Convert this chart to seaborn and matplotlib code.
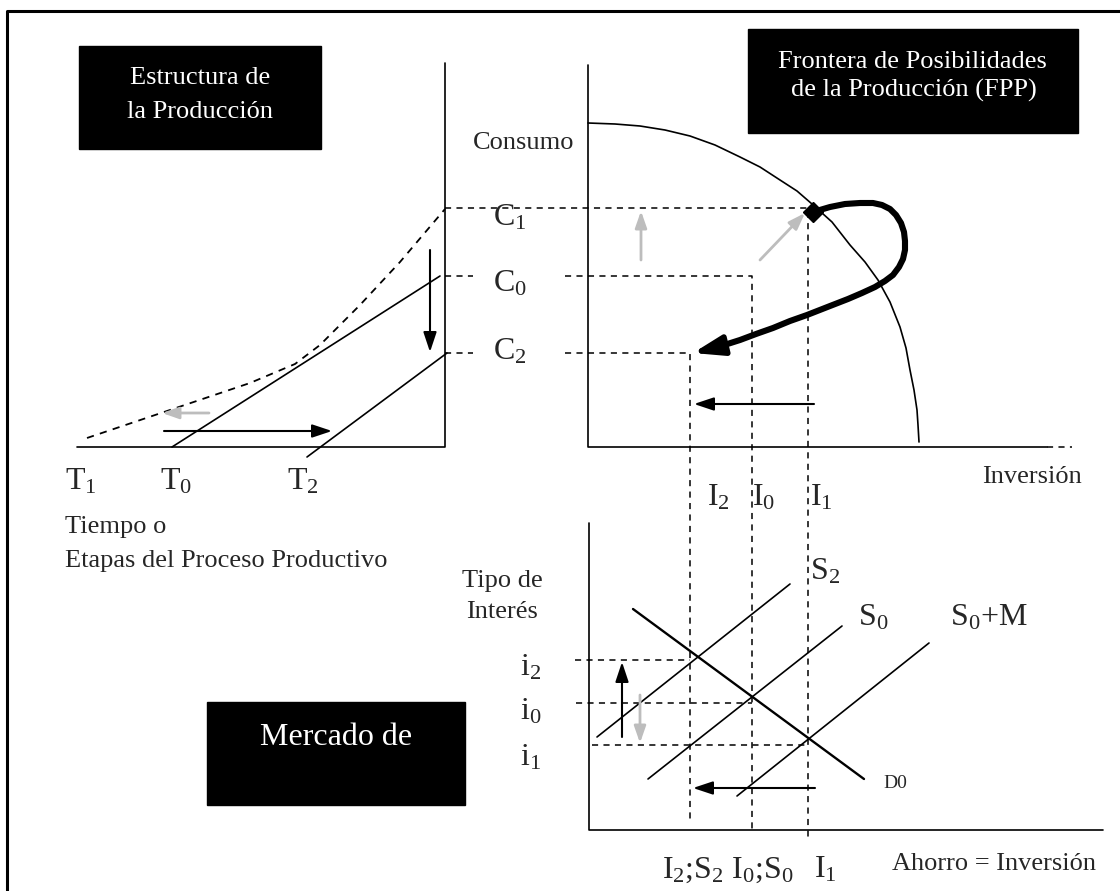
import pandas as pd
import seaborn as sns
import matplotlib.pyplot as plt
from matplotlib.patches import Rectangle

sns.set_theme(style='white')
plt.rcParams['font.family'] = ['Liberation Serif', 'DejaVu Serif']
plt.rcParams['mathtext.fontset'] = 'custom'
plt.rcParams['mathtext.rm'] = 'Liberation Serif'
plt.rcParams['mathtext.it'] = 'Liberation Serif:italic'

# Values (pixel units, y grows downward)

# Frontera de Posibilidades de la Produccion
fpp_x = [588, 615, 640, 665, 690, 715, 740, 760, 780, 797, 812, 832, 850, 865,
         878, 890, 900, 906, 910, 914, 917, 918, 919]
fpp_y = [123, 124, 126, 130, 136, 145, 157, 167, 180, 191, 204, 222, 245, 262,
         280, 302, 327, 348, 370, 390, 410, 425, 442]

# thick loop from the C1 point back to C2
loop_x = [813, 830, 845, 860, 873, 882, 890, 896, 901, 904, 905, 905, 903, 899,
          893, 885, 875, 862, 848, 830, 807, 790, 773, 756, 740, 718]
loop_y = [212, 207, 204, 203, 203, 205, 209, 215, 223, 232, 241, 250, 259, 267,
          275, 281, 287, 293, 299, 306, 315, 321, 328, 334, 340, 347]
loop_tip = (693, 353)

# Estructura de la Produccion
t1_x = [87, 164, 250, 295, 320, 360, 400, 445]
t1_y = [438, 412, 383, 364, 345, 305, 262, 209]
t0_x = [172, 440]
t0_y = [447, 276]
t2_x = [307, 447]
t2_y = [457, 353]

# consumption / investment / interest levels
c_levels = {'C1': 208, 'C0': 276, 'C2': 353}
inv_levels = {'I1': 808, 'I0': 752, 'I2': 690}
i_levels = {'i2': 660, 'i0': 703, 'i1': 745}

# Mercado de fondos: supply and demand lines
s2_x = [597, 790]
s2_y = [737, 584]
s0_x = [648, 842]
s0_y = [779, 626]
s0m_x = [737, 929]
s0m_y = [796, 643]
d0_x = [633, 864]
d0_y = [609, 779]

# axes of the three panels
left_axis_x = [445, 445, 77]
left_axis_y = [63, 447, 447]
fpp_axis_x = [588, 588, 1047]
fpp_axis_y = [65, 447, 447]
mkt_axis_x = [589, 589, 1103]
mkt_axis_y = [523, 830, 830]

# arrows: start -> end
black_arrows = [((430, 250), (430, 352)),
                ((164, 431), (332, 431)),
                ((814, 404), (694, 404)),
                ((622, 737), (622, 662)),
                ((815, 788), (693, 788))]
gray_arrows = [((209, 413), (162, 413)),
               ((641, 260), (641, 211)),
               ((760, 260), (805, 213)),
               ((640, 695), (640, 743))]

# black boxes
boxes = [(79, 46, 242, 103), (748, 29, 330, 104), (207, 702, 258, 103)]

fig = plt.figure(figsize=(11.2, 8.91), dpi=100)
ax = fig.add_axes([0, 0, 1, 1])

# solid lines
solid = pd.concat([
    pd.DataFrame({'line': 'fpp', 'x': fpp_x, 'y': fpp_y}),
    pd.DataFrame({'line': 't0', 'x': t0_x, 'y': t0_y}),
    pd.DataFrame({'line': 't2', 'x': t2_x, 'y': t2_y}),
    pd.DataFrame({'line': 's2', 'x': s2_x, 'y': s2_y}),
    pd.DataFrame({'line': 's0', 'x': s0_x, 'y': s0_y}),
    pd.DataFrame({'line': 's0m', 'x': s0m_x, 'y': s0m_y}),
    pd.DataFrame({'line': 'ax1', 'x': left_axis_x, 'y': left_axis_y}),
    pd.DataFrame({'line': 'ax2', 'x': fpp_axis_x, 'y': fpp_axis_y}),
    pd.DataFrame({'line': 'ax3', 'x': mkt_axis_x, 'y': mkt_axis_y}),
])
sns.lineplot(data=solid, x='x', y='y', units='line', estimator=None, sort=False,
             color='black', linewidth=1.2, legend=False, ax=ax)
sns.lineplot(x=d0_x, y=d0_y, estimator=None, sort=False, color='black',
             linewidth=1.7, ax=ax)

# dashed guide lines
dash = (0, (4, 3.5))
c1, c0, c2 = c_levels['C1'], c_levels['C0'], c_levels['C2']
I1, I0, I2 = inv_levels['I1'], inv_levels['I0'], inv_levels['I2']
ri2, ri0, ri1 = i_levels['i2'], i_levels['i0'], i_levels['i1']
dashed = pd.DataFrame({
    'line': ['a', 'a', 'a', 'b', 'b', 'c', 'c', 'c', 'd', 'd', 'e', 'e', 'e',
             'f', 'f', 'g', 'g', 'h', 'h', 'k', 'k'],
    'x': [445, I1, I1, 445, 473, 565, I0, I0, 445, 473, 565, I2, I2,
          575, I2, 576, I0, 592, I1, 1047, 1072],
    'y': [c1, c1, 837, c0, c0, c0, c0, 830, c2, c2, c2, c2, 823,
          ri2, ri2, ri0, ri0, ri1, ri1, 447, 447],
})
sns.lineplot(data=dashed, x='x', y='y', units='line', estimator=None, sort=False,
             color='black', linewidth=1.1, linestyle=dash, legend=False, ax=ax)
sns.lineplot(x=t1_x, y=t1_y, estimator=None, sort=False, color='black',
             linewidth=1.3, linestyle=dash, ax=ax)

# thick loop with arrow head
sns.lineplot(x=loop_x, y=loop_y, estimator=None, sort=False, color='black',
             linewidth=4.4, solid_joinstyle='round', solid_capstyle='round', ax=ax)
ax.annotate('', xy=loop_tip, xytext=(loop_x[-1], loop_y[-1]),
            arrowprops=dict(arrowstyle='-|>,head_length=18,head_width=6',
                            mutation_scale=1, color='black', lw=4,
                            shrinkA=0, shrinkB=0))
ax.plot([loop_x[0]], [loop_y[0]], marker='D', markersize=10, color='black')

for (x0, y0), (x1, y1) in black_arrows:
    ax.annotate('', xy=(x1, y1), xytext=(x0, y0),
                arrowprops=dict(arrowstyle='-|>,head_length=12,head_width=4',
                                mutation_scale=1, color='black', lw=1.5,
                                shrinkA=0, shrinkB=0))
for (x0, y0), (x1, y1) in gray_arrows:
    ax.annotate('', xy=(x1, y1), xytext=(x0, y0),
                arrowprops=dict(arrowstyle='-|>,head_length=10,head_width=3.5',
                                mutation_scale=1, color='#bdbdbd', lw=2,
                                shrinkA=0, shrinkB=0))

# outer frame (left and top edges)
ax.plot([7, 7, 1120], [891, 11, 11], color='black', linewidth=2.2)

for bx, by, bw, bh in boxes:
    ax.add_patch(Rectangle((bx, by), bw, bh, facecolor='black',
                           edgecolor='black', zorder=3))

# box titles
ax.text(200, 84, 'Estructura de', color='white', fontsize=19, ha='center', va='baseline', zorder=4)
ax.text(200, 118, 'la Producción', color='white', fontsize=19, ha='center', va='baseline', zorder=4)
ax.text(912, 68, 'Frontera de Posibilidades', color='white', fontsize=19, ha='center', va='baseline', zorder=4)
ax.text(914, 97, 'de la Producción (FPP)', color='white', fontsize=19, ha='center', va='baseline', zorder=4)
ax.text(336, 745, 'Mercado de', color='white', fontsize=23, ha='center', va='baseline', zorder=4)

# axis captions
ax.text(473, 149, 'Consumo', fontsize=19, va='baseline')
ax.text(65, 533, 'Tiempo o', fontsize=19, va='baseline')
ax.text(65, 567, 'Etapas del Proceso Productivo', fontsize=19, va='baseline')
ax.text(982, 483, 'Inversión', fontsize=19, va='baseline')
ax.text(502, 587, 'Tipo de', fontsize=19, ha='center', va='baseline')
ax.text(502, 618, 'Interés', fontsize=19, ha='center', va='baseline')
ax.text(892, 870, 'Ahorro = Inversión', fontsize=19, va='baseline')

# symbol labels
big = 23
ax.text(493, 225, 'C$_1$', fontsize=big, va='baseline')
ax.text(493, 292, 'C$_0$', fontsize=big, va='baseline')
ax.text(493, 360, 'C$_2$', fontsize=big, va='baseline')
ax.text(65, 490, 'T$_1$', fontsize=big, va='baseline')
ax.text(160, 490, 'T$_0$', fontsize=big, va='baseline')
ax.text(287, 490, 'T$_2$', fontsize=big, va='baseline')
ax.text(707, 505, 'I$_2$', fontsize=big, va='baseline')
ax.text(752, 505, 'I$_0$', fontsize=big, va='baseline')
ax.text(810, 505, 'I$_1$', fontsize=big, va='baseline')
ax.text(520, 675, 'i$_2$', fontsize=big, va='baseline')
ax.text(520, 720, 'i$_0$', fontsize=big, va='baseline')
ax.text(520, 765, 'i$_1$', fontsize=big, va='baseline')
ax.text(810, 580, 'S$_2$', fontsize=big, va='baseline')
ax.text(858, 626, 'S$_0$', fontsize=big, va='baseline')
ax.text(950, 626, 'S$_0$+M', fontsize=big, va='baseline')
ax.text(883, 788, 'D0', fontsize=14, va='baseline')
ax.text(662, 878, 'I$_2$;S$_2$ I$_0$;S$_0$', fontsize=big, va='baseline')
ax.text(814, 878, 'I$_1$', fontsize=big, va='baseline')

ax.set_xlim(0, 1120)
ax.set_ylim(891, 0)
ax.axis('off')

plt.savefig('out.png', dpi=100)
